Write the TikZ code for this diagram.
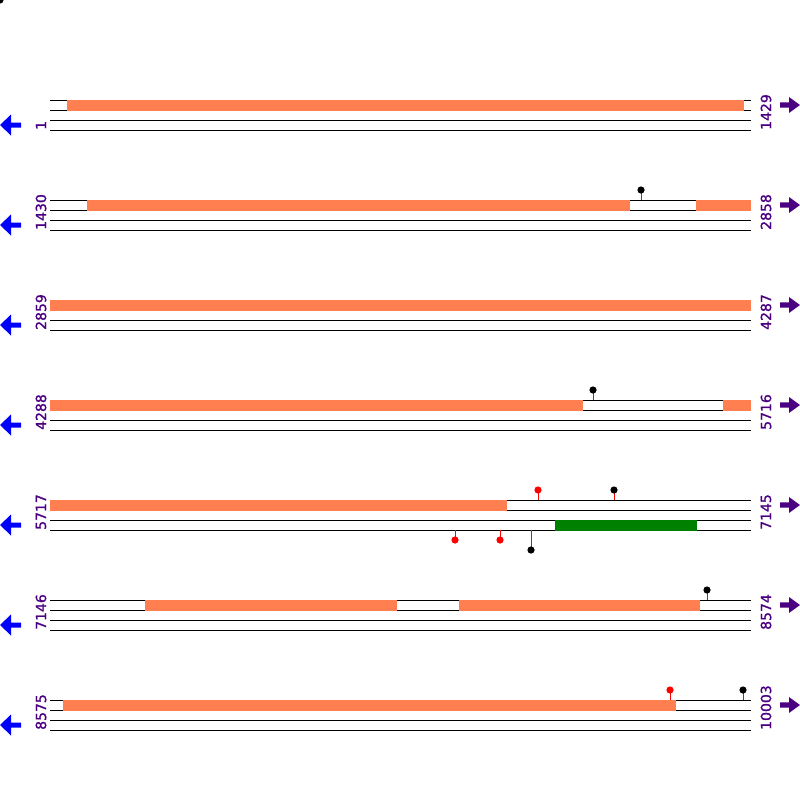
\documentclass[tikz,border=0pt]{standalone}
\usepackage{fontspec}
\setmainfont{DejaVu Sans}
\newfontfamily\lblfont[FakeBold=1.2]{DejaVu Sans}
\definecolor{seg}{HTML}{FF7F50}
\definecolor{grn}{HTML}{008000}
\definecolor{lbl}{HTML}{4B0082}
\tikzset{
  strand/.style={line width=1pt, black},
  segbox/.style={fill=seg, draw=none},
  grnbox/.style={fill=grn, draw=none},
  stem/.style={red, line width=1pt},
  numlbl/.style={rotate=90, anchor=west, inner sep=0pt, text=lbl, font=\lblfont\fontsize{14}{14}\selectfont},
  leftarrow/.style={fill=blue, draw=none},
  rightarrow/.style={fill=lbl, draw=none}
}
\newcommand{\rowlines}[1]{%
  \foreach \dy in {0,10,20,30} \draw[strand] (50,#1+\dy) -- (751,#1+\dy);
  \fill[leftarrow] (0,#1+25) -- (11,#1+14.5) -- (11,#1+22.5) -- (21,#1+22.5) -- (21,#1+27.5) -- (11,#1+27.5) -- (11,#1+35.5) -- cycle;
  \fill[rightarrow] (800,#1+5) -- (789,#1-3) -- (789,#1+2.3) -- (780,#1+2.3) -- (780,#1+7.7) -- (789,#1+7.7) -- (789,#1+13) -- cycle;
}
\newcommand{\orange}[3]{\fill[segbox] (#1,#3-0.5) rectangle (#2,#3+10.5);}
\newcommand{\lolly}[4]{\draw[stem] (#1,#2) -- (#1,#3); \fill[#4] (#1,#3) circle (3.6);}
\begin{document}
\begin{tikzpicture}[x=1pt,y=-1pt]
\useasboundingbox (0,0) rectangle (800,800);
\fill[black] (0,0) circle (3.6);
% row 1
\rowlines{100}
\orange{67}{744}{100}
\node[numlbl] (l1) at (41,130) {1};
\node[numlbl] (r1) at (766,130) {1429};
% row 2
\rowlines{200}
\orange{87}{630}{200}
\orange{696}{751}{200}
\lolly{641}{200}{190}{black}
\node[numlbl] (l2) at (41,230) {1430};
\node[numlbl] (r2) at (766,230) {2858};
% row 3
\rowlines{300}
\orange{50}{751}{300}
\node[numlbl] (l3) at (41,330) {2859};
\node[numlbl] (r3) at (766,330) {4287};
% row 4
\rowlines{400}
\orange{50}{583}{400}
\orange{723}{751}{400}
\lolly{593}{400}{390}{black}
\node[numlbl] (l4) at (41,430) {4288};
\node[numlbl] (r4) at (766,430) {5716};
% row 5
\rowlines{500}
\orange{50}{507}{500}
\fill[grnbox] (555,519.5) rectangle (697,530.5);
\lolly{538}{500}{490}{red}
\lolly{614}{500}{490}{black}
\lolly{455}{530}{540}{red}
\lolly{500}{530}{540}{red}
\lolly{531}{530}{550}{black}
\node[numlbl] (l5) at (41,530) {5717};
\node[numlbl] (r5) at (766,530) {7145};
% row 6
\rowlines{600}
\orange{145}{397}{600}
\orange{459}{700}{600}
\lolly{707}{600}{590}{black}
\node[numlbl] (l6) at (41,630) {7146};
\node[numlbl] (r6) at (766,630) {8574};
% row 7
\rowlines{700}
\orange{63}{676}{700}
\lolly{670}{700}{690}{red}
\lolly{743}{700}{690}{black}
\node[numlbl] (l7) at (41,730) {8575};
\node[numlbl] (r7) at (766,730) {10003};
\end{tikzpicture}
\end{document}
